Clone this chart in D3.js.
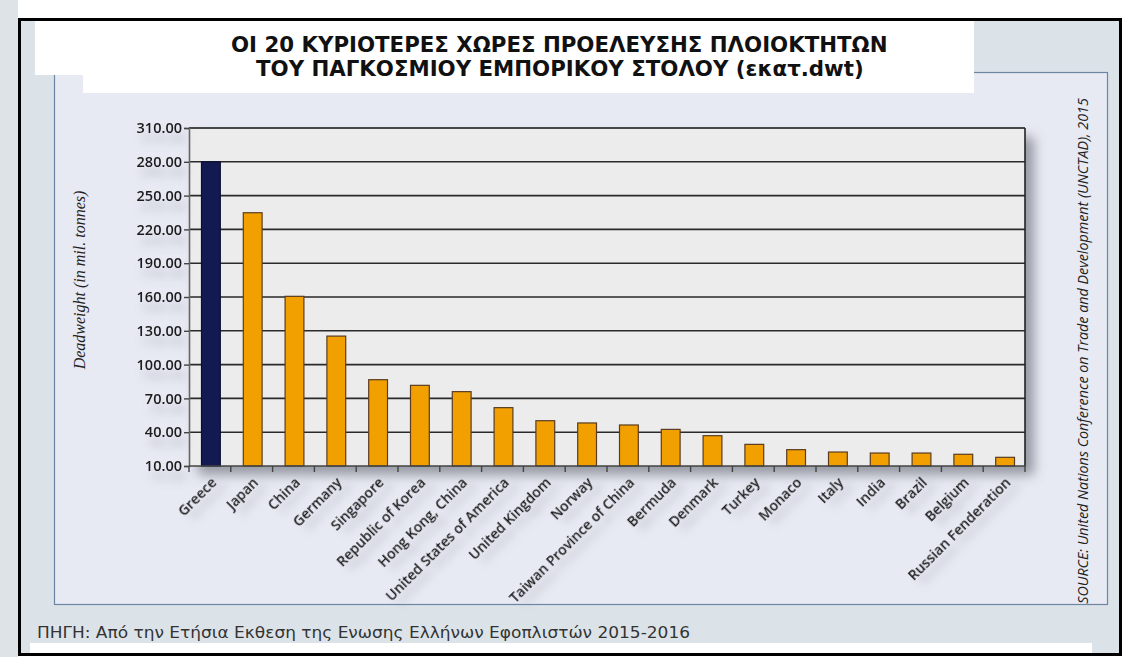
<!DOCTYPE html>
<html>
<head>
<meta charset="utf-8">
<script src="https://cdn.jsdelivr.net/npm/d3@7"></script>
<style>
  html, body { margin: 0; padding: 0; background: #ffffff; }
  svg { display: block; }
</style>
</head>
<body>
<svg id="chart" width="1126" height="657"></svg>
<script>
// ---------- data ----------
const categories = ["Greece", "Japan", "China", "Germany", "Singapore", "Republic of Korea",
  "Hong Kong, China", "United States of America", "United Kingdom", "Norway",
  "Taiwan Province of China", "Bermuda", "Denmark", "Turkey", "Monaco", "Italy",
  "India", "Brazil", "Belgium", "Russian Fenderation"];
const values = [280.0, 234.8, 160.6, 125.3, 86.6, 81.6, 76.0, 61.8, 50.2, 48.2,
  46.4, 42.5, 36.9, 29.2, 24.5, 22.4, 21.5, 21.5, 20.4, 17.7];
const yTicks = [10, 40, 70, 100, 130, 160, 190, 220, 250, 280, 310];
const titleLines = ["ΟΙ 20 ΚΥΡΙΟΤΕΡΕΣ ΧΩΡΕΣ ΠΡΟΕΛΕΥΣΗΣ ΠΛΟΙΟΚΤΗΤΩΝ",
  "ΤΟΥ ΠΑΓΚΟΣΜΙΟΥ ΕΜΠΟΡΙΚΟΥ ΣΤΟΛΟΥ (εκατ.dwt)"];
const yTitle = "Deadweight (in mil. tonnes)";
const sourceText = "SOURCE: United Nations Conference on Trade and Development (UNCTAD), 2015";
const footerText = "ΠΗΓΗ: Από την Ετήσια Εκθεση της Ενωσης Ελλήνων Εφοπλιστών 2015-2016";
const highlight = "Greece";

// ---------- layout ----------
const svg = d3.select("#chart");
const W = 1126, H = 657;
const plot = { left: 189, right: 1025, top: 128, bottom: 466 };

const defs = svg.append("defs");
const sh = defs.append("filter").attr("id", "plotShadow")
  .attr("x", "-5%").attr("y", "-5%").attr("width", "115%").attr("height", "125%");
sh.append("feDropShadow").attr("dx", 9).attr("dy", 9).attr("stdDeviation", 6)
  .attr("flood-color", "#6a6e78").attr("flood-opacity", 0.65);
const tsh = defs.append("filter").attr("id", "textShadow")
  .attr("x", "-30%").attr("y", "-60%").attr("width", "160%").attr("height", "400%");
tsh.append("feDropShadow").attr("dx", 4).attr("dy", 10).attr("stdDeviation", 4)
  .attr("flood-color", "#8a8e98").attr("flood-opacity", 0.45);

// page background
svg.append("rect").attr("x", 0).attr("y", 0).attr("width", W).attr("height", H).attr("fill", "#ffffff");
svg.append("rect").attr("x", 0).attr("y", 0).attr("width", 18).attr("height", H).attr("fill", "#dde3e7");
// framed area
svg.append("rect").attr("x", 19.5).attr("y", 19.5).attr("width", 1101).attr("height", 635)
  .attr("fill", "#dce3e8").attr("stroke", "#000").attr("stroke-width", 3);
// footer white strip
svg.append("rect").attr("x", 30).attr("y", 643).attr("width", 1062).attr("height", 10).attr("fill", "#ffffff");
// chart panel
svg.append("rect").attr("x", 54.5).attr("y", 72.5).attr("width", 1053).attr("height", 532)
  .attr("fill", "#e7e9f3").attr("stroke", "#6d84a3").attr("stroke-width", 1.2);
// title white box (stepped)
svg.append("path")
  .attr("d", "M35,21 H974 V93 H83 V75 H35 Z")
  .attr("fill", "#ffffff");

// title
svg.append("g").selectAll("text").data(titleLines).join("text")
  .attr("x", (d, i) => i === 0 ? 231 : 256)
  .attr("y", (d, i) => i === 0 ? 52 : 76)
  .attr("font-family", "'DejaVu Sans', Verdana, sans-serif")
  .attr("font-weight", "bold")
  .attr("font-size", 21.3)
  .attr("fill", "#111")
  .text(d => d);

// ---------- scales ----------
const x = d3.scaleBand().domain(categories).range([plot.left, plot.right]).padding(0);
const y = d3.scaleLinear().domain([10, 310]).range([plot.bottom, plot.top]);
const barW = x.bandwidth() * 0.45;

// plot background with shadow
svg.append("rect")
  .attr("x", plot.left).attr("y", plot.top)
  .attr("width", plot.right - plot.left).attr("height", plot.bottom - plot.top)
  .attr("fill", "#ececec").attr("filter", "url(#plotShadow)");

// gridlines
svg.append("g").selectAll("line").data(yTicks.filter(t => t > 10)).join("line")
  .attr("x1", plot.left).attr("x2", plot.right)
  .attr("y1", d => y(d)).attr("y2", d => y(d))
  .attr("stroke", d => d === 310 ? "#111" : "#2a2a2a")
  .attr("stroke-width", 1.6);

// right frame line
svg.append("line").attr("x1", plot.right).attr("x2", plot.right)
  .attr("y1", plot.top).attr("y2", plot.bottom).attr("stroke", "#222").attr("stroke-width", 1.6);

// bars
svg.append("g").selectAll("rect").data(categories).join("rect")
  .attr("x", d => x(d) + x.bandwidth() / 2 - barW / 2 + 1)
  .attr("width", barW)
  .attr("y", (d, i) => y(values[i]))
  .attr("height", (d, i) => y(10) - y(values[i]))
  .attr("fill", d => d === highlight ? "#131a52" : "#f2a000")
  .attr("stroke", d => d === highlight ? "#0c1030" : "#5a3c22")
  .attr("stroke-width", 1.2);

// y axis
const yAxis = svg.append("g").attr("transform", `translate(${plot.left},0)`)
  .call(d3.axisLeft(y).tickValues(yTicks).tickFormat(d3.format(".2f")).tickSize(5).tickPadding(2));
yAxis.select(".domain").attr("stroke", "#666").attr("stroke-width", 1.6);
yAxis.selectAll(".tick line").attr("stroke", "#444").attr("stroke-width", 1.4);
yAxis.selectAll(".tick text")
  .attr("font-family", "'Open Sans', sans-serif").attr("font-weight", 600)
  .attr("font-size", 14.5).attr("fill", "#1a1a1a")
  .attr("filter", "url(#textShadow)");

// x axis baseline and boundary ticks
const bounds = categories.map(c => x(c)).concat([plot.right]);
svg.append("line").attr("x1", plot.left).attr("x2", plot.right)
  .attr("y1", plot.bottom).attr("y2", plot.bottom).attr("stroke", "#444").attr("stroke-width", 1.6);
svg.append("g").selectAll("line").data(bounds).join("line")
  .attr("x1", d => d).attr("x2", d => d)
  .attr("y1", plot.bottom).attr("y2", plot.bottom + 6)
  .attr("stroke", "#444").attr("stroke-width", 1.4);

// x labels
svg.append("g").selectAll("text").data(categories).join("text")
  .attr("transform", d => `translate(${x(d) + x.bandwidth() / 2 + 4},${plot.bottom + 14}) rotate(-45)`)
  .attr("text-anchor", "end")
  .attr("dy", "0.35em")
  .attr("font-family", "'Open Sans', sans-serif").attr("font-weight", 600)
  .attr("font-size", 14).attr("fill", "#1a1a1a")
  .attr("filter", "url(#textShadow)")
  .text(d => d);

// y title
svg.append("text")
  .attr("transform", "translate(85,280) rotate(-90)")
  .attr("text-anchor", "middle")
  .attr("font-family", "'Liberation Serif', 'Times New Roman', serif")
  .attr("font-style", "italic").attr("font-size", 16).attr("fill", "#222")
  .text(yTitle);

// source (right, vertical)
svg.append("text")
  .attr("transform", "translate(1088,351) rotate(-90)")
  .attr("text-anchor", "middle")
  .attr("font-family", "'Open Sans', sans-serif")
  .attr("font-style", "italic").attr("font-size", 14.3).attr("fill", "#222")
  .text(sourceText);

// footer
svg.append("text")
  .attr("x", 37).attr("y", 638)
  .attr("font-family", "'DejaVu Sans', Tahoma, sans-serif")
  .attr("font-size", 16)
  .attr("textLength", 653).attr("lengthAdjust", "spacingAndGlyphs")
  .attr("fill", "#333")
  .text(footerText);
</script>
</body>
</html>
